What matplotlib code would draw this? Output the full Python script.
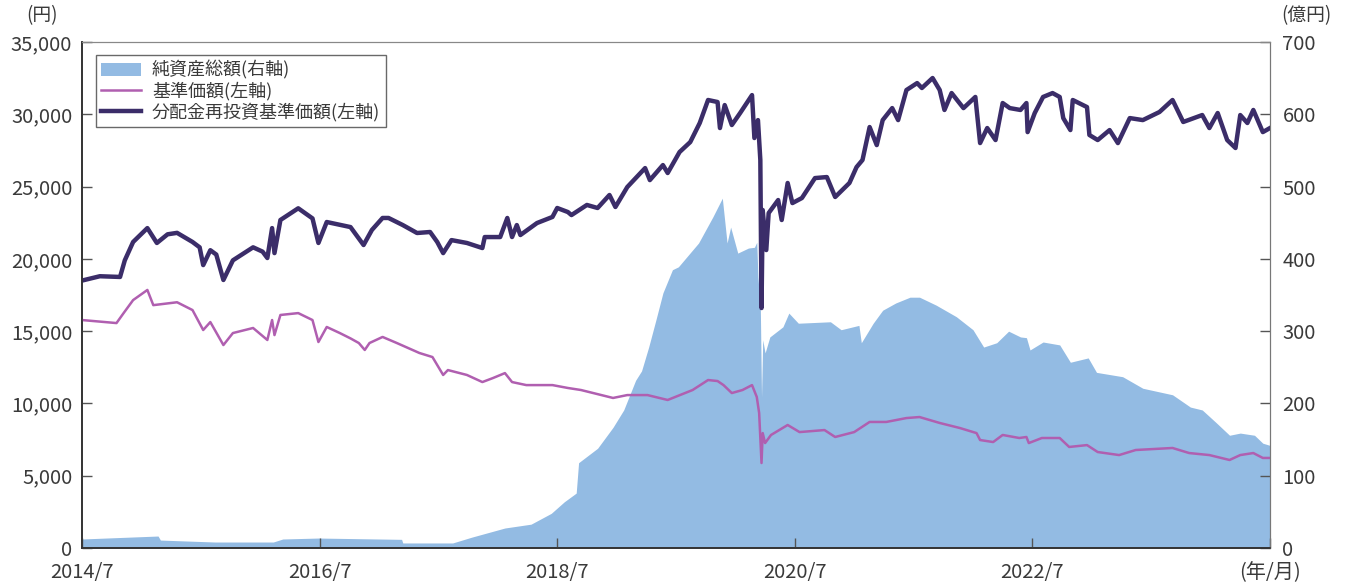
import numpy as np
import matplotlib
matplotlib.use("Agg")
import matplotlib.pyplot as plt
from matplotlib.patches import Patch
from matplotlib.lines import Line2D

plt.rcParams['font.family'] = ['Noto Sans CJK JP', 'DejaVu Sans']
plt.rcParams['font.size'] = 14

COLOR_FILL = '#93bbe3'
COLOR_NAV = '#b05fb0'
COLOR_REINV = '#3b2d69'
COLOR_TEXT = '#3a3a3a'

# 分配金再投資基準価額 (円), x in decimal years
reinv_x = [2014.50, 2014.65, 2014.82, 2014.86, 2014.93, 2015.05, 2015.13, 2015.22, 2015.30,
           2015.43, 2015.49, 2015.52, 2015.58, 2015.63, 2015.69, 2015.77, 2015.94, 2016.02,
           2016.06, 2016.10, 2016.12, 2016.17, 2016.32, 2016.44, 2016.49, 2016.56, 2016.76,
           2016.87, 2016.94, 2017.03, 2017.08, 2017.20, 2017.32, 2017.43, 2017.49, 2017.54,
           2017.61, 2017.74, 2017.87, 2017.89, 2018.02, 2018.08, 2018.12, 2018.16, 2018.19,
           2018.33, 2018.46, 2018.50, 2018.59, 2018.62, 2018.75, 2018.84, 2018.94, 2018.99,
           2019.09, 2019.24, 2019.28, 2019.39, 2019.43, 2019.53, 2019.62, 2019.70, 2019.77,
           2019.85, 2019.87, 2019.91, 2019.97, 2020.04, 2020.14, 2020.16, 2020.19, 2020.21,
           2020.22, 2020.23, 2020.26, 2020.28, 2020.36, 2020.39, 2020.44, 2020.48, 2020.56,
           2020.67, 2020.77, 2020.84, 2020.96, 2021.02, 2021.07, 2021.13, 2021.19, 2021.24,
           2021.32, 2021.37, 2021.44, 2021.53, 2021.57, 2021.66, 2021.72, 2021.76, 2021.82,
           2021.92, 2022.02, 2022.06, 2022.12, 2022.19, 2022.25, 2022.31, 2022.40, 2022.45,
           2022.46, 2022.52, 2022.59, 2022.67, 2022.73, 2022.76, 2022.82, 2022.84, 2022.96,
           2022.98, 2023.05, 2023.15, 2023.22, 2023.32, 2023.43, 2023.57, 2023.68, 2023.77,
           2023.93, 2023.99, 2024.06, 2024.14, 2024.21, 2024.25, 2024.31, 2024.36, 2024.44,
           2024.50]
reinv_y = [18500, 18800, 18750, 19900, 21170, 22130, 21100, 21700, 21800,
           21170, 20800, 19570, 20600, 20300, 18540, 19900, 20800, 20500,
           20060, 22130, 20400, 22690, 23500, 22800, 21100, 22550, 22200,
           20960, 22000, 22830, 22830, 22340, 21790, 21860, 21170, 20400,
           21300, 21100, 20750, 21510, 21510, 22830, 21510, 22340, 21650,
           22480, 22900, 23520, 23240, 23030, 23730, 23520, 24420, 23590,
           24970, 26280, 25450, 26490, 25940, 27390, 28080, 29400, 30990,
           30850, 29050, 30640, 29260, 30090, 31330, 28360, 29600, 26840,
           16600, 23380, 20610, 23170, 24070, 22690, 25250, 23860, 24210,
           25590, 25660, 24280, 25250, 26350, 26840, 29120, 27870, 29600,
           30430, 29600, 31680, 32160, 31820, 32510, 31680, 30300, 31470,
           30430, 31200, 28010, 29050, 28220, 30780, 30430, 30300, 30780,
           28770, 30090, 31200, 31470, 31200, 29740, 28910, 30990, 30500,
           28570, 28220, 28910, 28010, 29740, 29600, 30160, 30990, 29470,
           29950, 29050, 30090, 28220, 27670, 29950, 29400, 30300, 28770,
           29050]

# 基準価額 (円)
nav_x = [2014.50, 2014.79, 2014.85, 2014.93, 2015.05, 2015.10, 2015.30, 2015.43, 2015.52,
         2015.58, 2015.69, 2015.77, 2015.94, 2016.06, 2016.10, 2016.12, 2016.17, 2016.32,
         2016.44, 2016.49, 2016.56, 2016.67, 2016.76, 2016.83, 2016.88, 2016.92, 2017.03,
         2017.15, 2017.34, 2017.45, 2017.54, 2017.58, 2017.74, 2017.87, 2017.96, 2018.06,
         2018.12, 2018.24, 2018.46, 2018.59, 2018.70, 2018.97, 2019.09, 2019.26, 2019.43,
         2019.64, 2019.77, 2019.85, 2019.90, 2019.97, 2020.06, 2020.14, 2020.18, 2020.20,
         2020.22, 2020.23, 2020.25, 2020.30, 2020.44, 2020.54, 2020.75, 2020.84, 2021.00,
         2021.13, 2021.27, 2021.44, 2021.55, 2021.72, 2021.89, 2022.03, 2022.06, 2022.17,
         2022.25, 2022.39, 2022.45, 2022.47, 2022.58, 2022.73, 2022.81, 2022.96, 2023.05,
         2023.23, 2023.37, 2023.68, 2023.82, 2023.99, 2024.16, 2024.25, 2024.36, 2024.44,
         2024.50]
nav_y = [15770, 15560, 16250, 17150, 17850, 16800, 17000, 16460, 15080,
         15630, 14040, 14870, 15220, 14390, 15770, 14730, 16120, 16250,
         15770, 14250, 15290, 14870, 14500, 14180, 13700, 14180, 14600,
         14180, 13490, 13210, 11970, 12310, 11970, 11480, 11760, 12100,
         11480, 11270, 11270, 11070, 10930, 10380, 10580, 10580, 10240,
         10930, 11620, 11550, 11270, 10720, 10930, 11270, 10450, 9340,
         5880, 7950, 7260, 7820, 8510, 8020, 8160, 7680, 8020,
         8720, 8720, 8990, 9060, 8650, 8300, 7950, 7470, 7330,
         7820, 7610, 7680, 7260, 7610, 7610, 6990, 7120, 6640,
         6430, 6780, 6920, 6570, 6430, 6090, 6430, 6570, 6230,
         6230]

# 純資産総額 (億円)
aum_x = [2014.50, 2015.14, 2015.16, 2015.62, 2016.11, 2016.19, 2016.49, 2017.19, 2017.20,
         2017.62, 2017.78, 2018.06, 2018.28, 2018.45, 2018.56, 2018.66, 2018.68, 2018.84,
         2018.97, 2019.06, 2019.16, 2019.21, 2019.27, 2019.33, 2019.39, 2019.47, 2019.52,
         2019.69, 2019.81, 2019.89, 2019.93, 2019.96, 2020.02, 2020.11, 2020.16, 2020.18,
         2020.19, 2020.21, 2020.22, 2020.23, 2020.25, 2020.29, 2020.40, 2020.45, 2020.53,
         2020.80, 2020.89, 2021.04, 2021.06, 2021.16, 2021.24, 2021.35, 2021.47, 2021.55,
         2021.69, 2021.86, 2022.00, 2022.09, 2022.20, 2022.30, 2022.40, 2022.45, 2022.48,
         2022.59, 2022.73, 2022.82, 2022.97, 2023.04, 2023.26, 2023.43, 2023.68, 2023.83,
         2023.93, 2024.05, 2024.16, 2024.25, 2024.37, 2024.44, 2024.50]
aum_y = [12.5, 16.6, 11, 8.3, 8.3, 12.5, 13.8, 12, 7,
         7, 15, 27.7, 33, 48, 64, 76, 118, 138,
         167, 191, 232, 245, 278, 315, 353, 385, 389,
         422, 458, 484, 422, 444, 408, 415, 416, 423,
         375, 333, 209, 288, 270, 292, 306, 325, 311,
         313, 302, 308, 284, 311, 329, 339, 347, 347,
         336, 320, 302, 278, 284, 300, 292, 291, 274,
         285, 281, 257, 263, 243, 237, 221, 212, 195,
         191, 173, 156, 159, 156, 145, 142]

tick_years = [2014.5, 2016.5, 2018.5, 2020.5, 2022.5, 2024.5]
tick_labels = ['2014/7', '2016/7', '2018/7', '2020/7', '2022/7', '(年/月)']

fig = plt.figure(figsize=(13.47, 5.87), dpi=100)
ax = fig.add_axes([0.0609, 0.0664, 0.8819, 0.862])
ax2 = ax.twinx()

ax2.fill_between(aum_x, 0, aum_y, color=COLOR_FILL, linewidth=0)
ax.plot(nav_x, nav_y, color=COLOR_NAV, linewidth=1.8)
ax.plot(reinv_x, reinv_y, color=COLOR_REINV, linewidth=3.2)

# lines above the fill
ax.set_zorder(ax2.get_zorder() + 1)
ax.patch.set_visible(False)

ax.set_xlim(2014.5, 2024.5)
ax.set_ylim(0, 35000)
ax2.set_ylim(0, 700)
ax.set_yticks(np.arange(0, 35001, 5000))
ax.set_yticklabels([f'{v:,}' for v in range(0, 35001, 5000)])
ax2.set_yticks(np.arange(0, 701, 100))
ax.set_xticks(tick_years)
ax.set_xticklabels(tick_labels)

for a in (ax, ax2):
    a.tick_params(direction='in', length=7, width=1, colors='#555555', labelcolor=COLOR_TEXT,
                  labelsize=14.5)
    a.spines['left'].set_color('#333333')
    a.spines['bottom'].set_color('#333333')
    a.spines['top'].set_color('#888888')
    a.spines['right'].set_color('#777777')
    a.spines['left'].set_linewidth(1.2)
    a.spines['bottom'].set_linewidth(1.2)
ax.tick_params(axis='y', pad=7)
ax2.tick_params(axis='y', pad=9)
ax.tick_params(axis='x', pad=10)

fig.text(0.031, 0.974, '(円)', ha='center', va='center', fontsize=13.5, color=COLOR_TEXT)
fig.text(0.970, 0.974, '(億円)', ha='center', va='center', fontsize=13.5, color=COLOR_TEXT)

handles = [Patch(facecolor=COLOR_FILL, edgecolor='none'),
           Line2D([], [], color=COLOR_NAV, linewidth=1.8),
           Line2D([], [], color=COLOR_REINV, linewidth=3.2)]
labels = ['純資産総額(右軸)', '基準価額(左軸)', '分配金再投資基準価額(左軸)']
leg = ax.legend(handles, labels, loc='upper left', bbox_to_anchor=(0.0118, 0.974),
                fontsize=13, frameon=True, fancybox=False, edgecolor='#444444',
                handlelength=2.2, handletextpad=0.6, labelspacing=0.12, borderpad=0.3,
                borderaxespad=0)
leg.get_frame().set_linewidth(1.0)
for t in leg.get_texts():
    t.set_color(COLOR_TEXT)

fig.savefig('out.png', dpi=100)
